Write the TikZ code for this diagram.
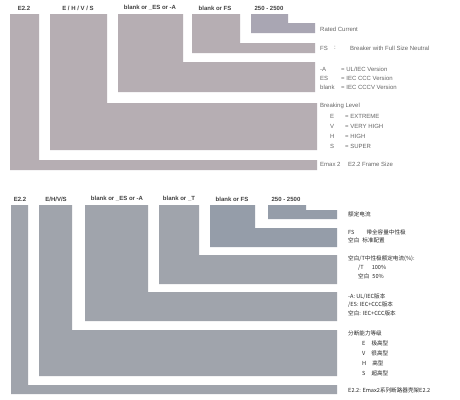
\documentclass[tikz,border=0pt]{standalone}
\usepackage{fontspec}
\setmainfont{Liberation Sans}
\newfontfamily\cjk{Noto Sans CJK SC}
\definecolor{barA}{HTML}{B6AEB3}
\definecolor{barAd}{HTML}{A9A6B3}
\definecolor{barB}{HTML}{A0A4AC}
\definecolor{barBd}{HTML}{959DA9}
\newcommand{\Lshape}[7]{\fill[#1] (#2,#4) -- (#3,#4) -- (#3,#5) -- (#7,#5) -- (#7,#6) -- (#2,#6) -- cycle;}
\begin{document}
\begin{tikzpicture}[x=1pt,y=-1pt,
  hdr/.style={font=\fontsize{6}{7}\selectfont\bfseries, text=black!75, inner sep=0pt},
  lbl/.style={font=\fontsize{6}{7}\selectfont, text=black!60, anchor=west, inner sep=0pt},
  clbl/.style={font=\fontsize{5.6}{7}\selectfont\cjk, text=black!85, anchor=west, inner sep=0pt},
  topbar/.style={fill=barA},
  topbard/.style={fill=barAd},
  botbar/.style={fill=barB},
  botbard/.style={fill=barBd}]
\useasboundingbox (0,0) rectangle (460,399);
\fill[white] (0,0) rectangle (460,399);

% ---------- top diagram ----------
\Lshape{topbar}{10}{39}{14}{160}{170}{317}
\Lshape{topbar}{50}{107}{14}{103}{150}{317}
\Lshape{topbar}{118}{183}{14}{62}{92}{315}
\Lshape{topbar}{192}{240}{14}{43}{53}{315}
\Lshape{topbard}{251}{288}{14}{23}{33}{315}

\node[hdr] (th1) at (24,8) {E2.2};
\node[hdr] (th2) at (78,8) {E / H / V / S};
\node[hdr] (th3) at (150,8) {blank or \_ES or -A};
\node[hdr] (th4) at (215,8) {blank or FS};
\node[hdr] (th5) at (269,8) {250 - 2500};

\node[lbl] (trc) at (320,29) {Rated Current};
\node[lbl] (tfsk) at (320,48) {FS};
\node[lbl] (tfsc) at (334,48) {:};
\node[lbl] (tfsd) at (350,48) {Breaker with Full Size Neutral};
\node[lbl] (tak) at (320,69) {-A};
\node[lbl] (tad) at (341,69) {= UL/IEC Version};
\node[lbl] (tek) at (320,78) {ES};
\node[lbl] (ted) at (341,78) {= IEC CCC Version};
\node[lbl] (tbk) at (320,87) {blank};
\node[lbl] (tbd) at (341,87) {= IEC CCCV Version};
\node[lbl] (tbl) at (320,106) {Breaking Level};
\node[lbl] (te1) at (330,116) {E};
\node[lbl] (te2) at (345,116) {= EXTREME};
\node[lbl] (tv1) at (330,126) {V};
\node[lbl] (tv2) at (345,126) {= VERY HIGH};
\node[lbl] (th1l) at (330,136) {H};
\node[lbl] (th2l) at (345,136) {= HIGH};
\node[lbl] (ts1) at (330,146) {S};
\node[lbl] (ts2) at (345,146) {= SUPER};
\node[lbl] (tfr1) at (320,164) {Emax 2};
\node[lbl] (tfr2) at (348,164) {E2.2 Frame Size};

% ---------- bottom diagram ----------
\Lshape{botbar}{11}{28}{205}{385}{394}{337}
\Lshape{botbar}{39}{72}{205}{330}{376}{337}
\Lshape{botbar}{85}{148}{205}{292}{321}{337}
\Lshape{botbar}{159}{199}{205}{255}{284}{337}
\Lshape{botbard}{210}{255}{205}{228}{247}{337}
\Lshape{botbard}{268}{306}{205}{210}{219}{337}

\node[hdr] (bh1) at (20,199) {E2.2};
\node[hdr] (bh2) at (56,199) {E/H/V/S};
\node[hdr] (bh3) at (117,199) {blank or \_ES or -A};
\node[hdr] (bh4) at (179,199) {blank or \_T};
\node[hdr] (bh5) at (232,199) {blank or FS};
\node[hdr] (bh6) at (286,199) {250 - 2500};

\node[clbl] (brc) at (348,214) {额定电流};
\node[clbl] (bfs1) at (348,232) {FS\hspace{12pt}带全容量中性极};
\node[clbl] (bfs2) at (348,240) {空白\hspace{3pt}标准配置};
\node[clbl] (bt0) at (348,259) {空白/T中性极额定电流(\%):};
\node[clbl] (bt1) at (358,268) {/T\hspace{8pt}100\%};
\node[clbl] (bt2) at (358,276) {空白\hspace{3pt}50\%};
\node[clbl] (be1) at (348,297) {-A: UL/IEC版本};
\node[clbl] (be2) at (348,305) {/ES: IEC+CCC版本};
\node[clbl] (be3) at (348,313) {空白: IEC+CCC版本};
\node[clbl] (bb0) at (348,333) {分断能力等级};
\node[clbl] (bb1) at (362,343) {E\hspace{6pt}极高型};
\node[clbl] (bb2) at (362,353) {V\hspace{6pt}很高型};
\node[clbl] (bb3) at (362,363) {H\hspace{6pt}高型};
\node[clbl] (bb4) at (362,373) {S\hspace{6pt}超高型};
\node[clbl] (bfr) at (348,390) {E2.2: Emax2系列断路器壳架E2.2};
\end{tikzpicture}
\end{document}
